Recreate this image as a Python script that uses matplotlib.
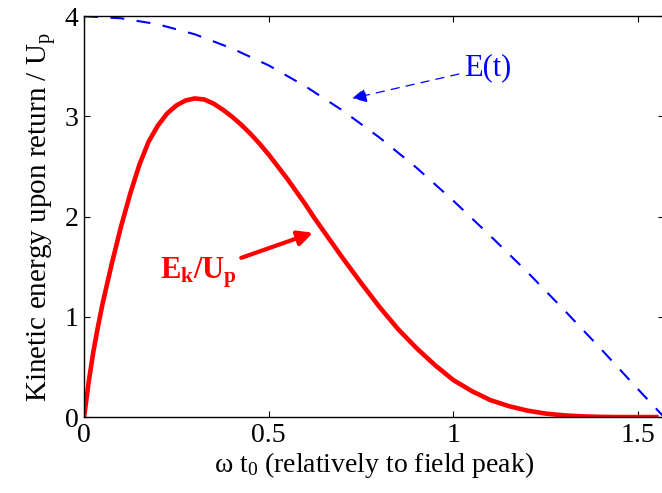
import matplotlib
matplotlib.use('Agg')
import matplotlib.pyplot as plt

# ionisation phase (rad) and return energy in units of Up
phase_ek = [0, 0.0125, 0.025, 0.0375, 0.05, 0.075, 0.1, 0.125, 0.15, 0.175, 0.2, 0.225,
            0.25, 0.275, 0.3, 0.325, 0.35, 0.375, 0.4, 0.425, 0.45, 0.475, 0.5, 0.525,
            0.55, 0.575, 0.6, 0.625, 0.65, 0.675, 0.7, 0.75, 0.8, 0.85, 0.9, 0.95, 1.0,
            1.05, 1.1, 1.15, 1.2, 1.25, 1.3, 1.35, 1.4, 1.45, 1.5, 1.55]
ek_up = [0, 0.35, 0.65, 0.9, 1.13, 1.53, 1.9, 2.23, 2.52, 2.75, 2.91, 3.03,
         3.11, 3.16, 3.18, 3.17, 3.13, 3.07, 3.0, 2.92, 2.83, 2.73, 2.62, 2.5,
         2.38, 2.25, 2.12, 1.98, 1.85, 1.72, 1.59, 1.34, 1.1, 0.88, 0.69, 0.52, 0.37,
         0.26, 0.17, 0.11, 0.065, 0.035, 0.017, 0.007, 0.002, 0, 0, 0]

# field envelope curve
phase_e = [0, 0.1, 0.2, 0.3, 0.4, 0.5, 0.6, 0.7, 0.8, 0.9, 1.0, 1.1, 1.2, 1.3, 1.4, 1.5, 1.5708]
e_t = [4.0, 3.98, 3.92, 3.82, 3.68, 3.51, 3.30, 3.06, 2.79, 2.49, 2.16, 1.81, 1.45, 1.07,
       0.68, 0.28, 0.0]

plt.rcParams['font.family'] = 'Liberation Serif'
plt.rcParams['mathtext.fontset'] = 'custom'
plt.rcParams['mathtext.rm'] = 'Liberation Serif'
plt.rcParams['mathtext.it'] = 'Liberation Serif'
plt.rcParams['mathtext.bf'] = 'Liberation Serif:bold'
plt.rcParams['lines.scale_dashes'] = False

fig = plt.figure(figsize=(6.62, 4.93), dpi=100)
ax = fig.add_axes([0.127, 0.154, 0.876, 0.813])

ax.plot(phase_e, e_t, color='blue', lw=1.5, dashes=(10, 9))
ax.plot(phase_ek, ek_up, color='red', lw=3.3, solid_joinstyle='round')

ax.set_xlim(0, 1.5708)
ax.set_ylim(0, 4)
ax.set_xticks([0, 0.5, 1, 1.5])
ax.set_xticklabels(['0', '0.5', '1', '1.5'])
ax.set_yticks([0, 1, 2, 3, 4])
ax.tick_params(direction='in', top=True, right=True, length=4, width=0.8,
               labelsize=20, pad=4)
for s in ax.spines.values():
    s.set_linewidth(1.0)

ax.set_xlabel(r'ω t$_0$ (relatively to field peak)', fontsize=20, labelpad=2)
ax.set_ylabel(r'Kinetic energy upon return / U$_\mathrm{p}$', fontsize=21, labelpad=5)

ax.annotate('E(t)', xy=(0.726, 3.18), xytext=(1.03, 3.49), color='blue', fontsize=22,
            va='center', ha='left',
            arrowprops=dict(arrowstyle='-|>', color='blue', lw=0.9, linestyle=(0, (6, 5)),
                            mutation_scale=22, shrinkA=2, shrinkB=0))
ax.annotate(r'E$_\mathbf{k}$/U$_\mathbf{p}$', xy=(0.62, 1.84), xytext=(0.206, 1.44),
            color='red', fontsize=22, fontweight='bold', va='center', ha='left',
            arrowprops=dict(arrowstyle='-|>', color='red', lw=3, mutation_scale=22,
                            shrinkA=1, shrinkB=0))

fig.savefig('out.png', dpi=100)
